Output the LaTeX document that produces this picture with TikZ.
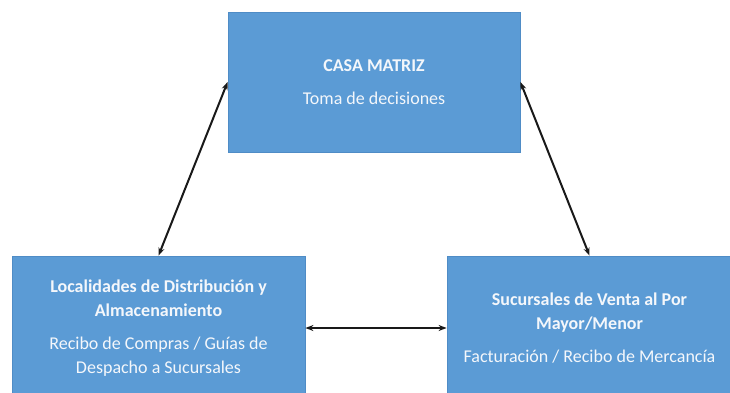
\documentclass[tikz,border=0pt]{standalone}
\usepackage{fontspec}
\setmainfont{Carlito}
\usetikzlibrary{arrows.meta}
\definecolor{boxfill}{HTML}{5B9BD5}
\definecolor{boxline}{HTML}{4F8CC6}
\definecolor{boxtext}{HTML}{F4F7FB}
\tikzset{
  block/.style={draw=boxline, line width=0.8pt, fill=boxfill, text=boxtext, align=center,
    inner sep=0pt, font=\fontsize{18}{24}\selectfont},
  link/.style={{Stealth[length=8pt,width=6pt]}-{Stealth[length=8pt,width=6pt]}, line width=2pt, black!90}
}
\begin{document}
\begin{tikzpicture}[x=1pt,y=-1pt]
\useasboundingbox (0,0) rectangle (730,393);
\node[block, minimum width=292pt, minimum height=140pt] (top) at (374,82)
  {\textbf{CASA MATRIZ}\\[9pt]Toma de decisiones};
\node[block, minimum width=293pt, minimum height=144pt] (left) at (158.5,328)
  {\textbf{Localidades de Distribución y}\\\textbf{Almacenamiento}\\[9pt]Recibo de Compras / Guías de\\Despacho a Sucursales};
\node[block, minimum width=285pt, minimum height=144pt] (right) at (589.5,328)
  {\textbf{Sucursales de Venta al Por}\\\textbf{Mayor/Menor}\\[9pt]Facturación / Recibo de Mercancía};
\draw[link] (top.west) -- (left.north);
\draw[link] (top.east) -- (right.north);
\draw[link] (left.east) -- (right.west);
\end{tikzpicture}
\end{document}
